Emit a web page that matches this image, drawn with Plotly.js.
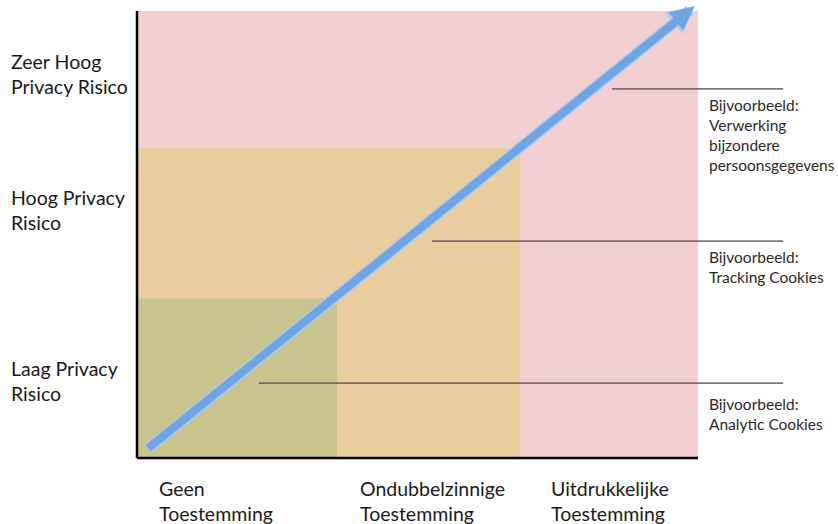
<!DOCTYPE html>
<html>
<head>
<meta charset="utf-8">
<script src="https://cdn.plot.ly/plotly-3.0.1.min.js"></script>
<style>
  html, body { margin: 0; padding: 0; background: #ffffff; }
  #chart { width: 838px; height: 524px; }
</style>
</head>
<body>
<div id="chart"></div>
<script>
// ---- data ----
// consent categories (x) and risk levels (y)
var consentLabels = ['Geen<br>Toestemming', 'Ondubbelzinnige<br>Toestemming', 'Uitdrukkelijke<br>Toestemming'];
var consentPos = [0.105, 1.18, 2.205];
var riskLabels = ['Laag Privacy<br>Risico', 'Hoog Privacy<br>Risico', 'Zeer Hoog<br>Privacy Risico'];
var riskPos = [0.52, 1.664, 2.574];

// zone boundaries (upper-right corner of each zone, starting at origin)
var zoneX = [3.0, 2.05, 1.07];
var zoneY = [3.0, 2.08, 1.07];
var zoneColors = ['#f2cfd1', '#eacd9f', '#c9c38d'];

// arrow from no consent / low risk to explicit consent / very high risk
var arrowX = [0.04, 2.985];
var arrowY = [0.045, 3.035];

// example call-out lines and texts
var exampleY = [0.503, 1.456, 2.477];
var exampleStart = [0.652, 1.578, 2.54];
var exampleEnd = [3.455, 3.455, 3.455];
var exampleTextX = [3.05, 3.05, 3.05];
var exampleTextY = [0.292, 1.279, 2.168];
var exampleText = [
  'Bijvoorbeeld:<br>Analytic Cookies',
  'Bijvoorbeeld:<br>Tracking Cookies',
  'Bijvoorbeeld:<br>Verwerking<br>bijzondere<br>persoonsgegevens'
];

// axis extents
var axisMaxX = 3.0;
var axisMaxY = 3.0;

// ---- build figure ----
var FONT = 'Lato, "Open Sans", sans-serif';
var shapes = [];
for (var i = 0; i < zoneX.length; i++) {
  shapes.push({
    type: 'rect', xref: 'x', yref: 'y', layer: 'below',
    x0: 0, x1: zoneX[i], y0: 0, y1: zoneY[i],
    fillcolor: zoneColors[i], line: {width: 0}
  });
}
// axis lines (only along the chart area)
shapes.push({
  type: 'line', xref: 'x', yref: 'paper', layer: 'above',
  x0: -0.01, x1: axisMaxX, y0: 0, y1: 0,
  line: {color: '#000000', width: 2.5}
});
shapes.push({
  type: 'line', xref: 'paper', yref: 'y', layer: 'above',
  x0: 0, x1: 0, y0: 0, y1: axisMaxY,
  line: {color: '#000000', width: 2.5}
});

var traces = [];
// call-out lines
for (var j = 0; j < exampleY.length; j++) {
  traces.push({
    type: 'scatter', mode: 'lines',
    x: [exampleStart[j], exampleEnd[j]], y: [exampleY[j], exampleY[j]],
    line: {color: 'rgba(95,85,85,0.8)', width: 1.8},
    hoverinfo: 'skip', showlegend: false
  });
}

var annotations = [];
// arrow: lighter halo underneath, then the main band with its head
annotations.push({
  xref: 'x', yref: 'y', axref: 'x', ayref: 'y',
  x: arrowX[1], y: arrowY[1], ax: arrowX[0], ay: arrowY[0],
  showarrow: true, arrowhead: 2, arrowwidth: 11, arrowsize: 0.5,
  arrowcolor: '#a9c9ee', standoff: 0, startstandoff: 0
});
annotations.push({
  xref: 'x', yref: 'y', axref: 'x', ayref: 'y',
  x: arrowX[1], y: arrowY[1], ax: arrowX[0], ay: arrowY[0],
  showarrow: true, arrowhead: 2, arrowwidth: 8, arrowsize: 0.58,
  arrowcolor: '#6fa5e2', standoff: 1.5, startstandoff: 1
});
for (var a = 0; a < consentLabels.length; a++) {
  annotations.push({
    xref: 'x', yref: 'paper', x: consentPos[a], y: -0.094,
    xanchor: 'left', yanchor: 'middle', align: 'left', showarrow: false,
    text: consentLabels[a], font: {family: FONT, size: 19.5, color: '#1a1a1a'}
  });
}
for (var b = 0; b < riskLabels.length; b++) {
  annotations.push({
    xref: 'paper', yref: 'y', x: -0.182, y: riskPos[b],
    xanchor: 'left', yanchor: 'middle', align: 'left', showarrow: false,
    text: riskLabels[b], font: {family: FONT, size: 19.5, color: '#1a1a1a'}
  });
}
for (var c = 0; c < exampleText.length; c++) {
  annotations.push({
    xref: 'x', yref: 'y', x: exampleTextX[c], y: exampleTextY[c],
    xanchor: 'left', yanchor: 'middle', align: 'left', showarrow: false,
    text: exampleText[c], font: {family: FONT, size: 15.5, color: '#2a2a2a'}
  });
}

var layout = {
  width: 838, height: 524,
  margin: {l: 137, r: 0, t: 0, b: 66, pad: 0},
  paper_bgcolor: '#ffffff', plot_bgcolor: '#ffffff',
  showlegend: false,
  xaxis: {range: [0, 701 / 187], showgrid: false, zeroline: false,
          showline: false, showticklabels: false, ticks: '', fixedrange: true},
  yaxis: {range: [0, 458 / 149], showgrid: false, zeroline: false,
          showline: false, showticklabels: false, ticks: '', fixedrange: true},
  shapes: shapes,
  annotations: annotations
};

Plotly.newPlot('chart', traces, layout, {displayModeBar: false, staticPlot: true});
</script>
</body>
</html>
